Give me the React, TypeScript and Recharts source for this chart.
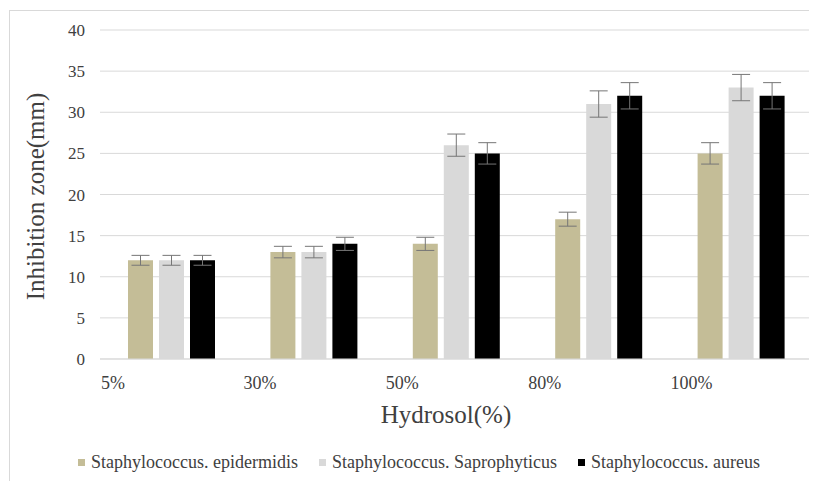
import React from "react";
import {
  BarChart,
  Bar,
  XAxis,
  YAxis,
  CartesianGrid,
  Legend,
  ErrorBar,
} from "recharts";

const categories = ["5%", "30%", "50%", "80%", "100%"];
const epidermidis = [12, 13, 14, 17, 25];
const saprophyticus = [12, 13, 26, 31, 33];
const aureus = [12, 14, 25, 32, 32];
const errEpidermidis = [0.6, 0.7, 0.8, 0.85, 1.3];
const errSaprophyticus = [0.6, 0.7, 1.35, 1.6, 1.6];
const errAureus = [0.6, 0.8, 1.3, 1.6, 1.6];
const yTicks = [0, 5, 10, 15, 20, 25, 30, 35, 40];

const series = [
  { key: "epi", err: "eEpi", name: "Staphylococcus. epidermidis", color: "#c4bd97" },
  { key: "sap", err: "eSap", name: "Staphylococcus. Saprophyticus", color: "#d9d9d9" },
  { key: "aur", err: "eAur", name: "Staphylococcus. aureus", color: "#000000" },
];

const data = categories.map((c, i) => ({
  name: c,
  epi: epidermidis[i],
  sap: saprophyticus[i],
  aur: aureus[i],
  eEpi: errEpidermidis[i],
  eSap: errSaprophyticus[i],
  eAur: errAureus[i],
}));

const FONT = '"Liberation Serif", "Times New Roman", serif';
const TEXT = "#404040";
const W = 808;
const H = 470;
const PLOT_LEFT = 90;
const PLOT_RIGHT = 6;
const halfBand = (W - PLOT_LEFT - PLOT_RIGHT) / categories.length / 2;

function XTick({ x, y, payload }: any) {
  // labels sit at the left edge of each category band
  return (
    <text x={x - halfBand + 1} y={y + 28} textAnchor="start" fontSize={18} fill={TEXT} fontFamily={FONT}>
      {payload.value}
    </text>
  );
}

function LegendBox() {
  return (
    <div
      style={{
        display: "flex",
        justifyContent: "center",
        gap: 21,
        paddingLeft: 10,
        fontFamily: FONT,
        fontSize: 18,
        lineHeight: "22px",
        color: TEXT,
      }}
    >
      {series.map((s) => (
        <div key={s.key} style={{ display: "flex", alignItems: "center" }}>
          <span style={{ width: 7, height: 7, background: s.color, marginRight: 6, display: "inline-block" }} />
          <span>{s.name}</span>
        </div>
      ))}
    </div>
  );
}

export default function App() {
  return (
    <div style={{ width: 830, height: 490, marginLeft: 1, marginTop: 2, border: "1px solid #d9d9d9", background: "#fff" }}>
      <BarChart
        width={W}
        height={H}
        data={data}
        barSize={25}
        barGap={6}
        margin={{ top: 19, right: PLOT_RIGHT, bottom: 20, left: 0 }}
      >
        <CartesianGrid vertical={false} stroke="#d9d9d9" />
        <XAxis
          dataKey="name"
          height={80}
          axisLine={{ stroke: "#d9d9d9" }}
          tickLine={false}
          tickSize={0}
          tick={<XTick />}
          interval={0}
          label={{
            content: ({ viewBox }: any) => (
              <text
                x={viewBox.x + viewBox.width / 2 - 10}
                y={viewBox.y + 64}
                textAnchor="middle"
                fontSize={25}
                fill={TEXT}
                fontFamily={FONT}
              >
                Hydrosol(%)
              </text>
            ),
          }}
        />
        <YAxis
          width={PLOT_LEFT}
          domain={[0, 40]}
          ticks={yTicks}
          axisLine={false}
          tickLine={false}
          tickSize={0}
          tickMargin={15}
          tick={{ fontSize: 17, fill: TEXT, fontFamily: FONT }}
          label={{
            content: ({ viewBox }: any) => {
              const cx = viewBox.x + 25;
              const cy = viewBox.y + viewBox.height / 2 + 2;
              return (
                <text
                  x={cx}
                  y={cy}
                  transform={`rotate(-90 ${cx} ${cy})`}
                  textAnchor="middle"
                  dominantBaseline="central"
                  fontSize={25}
                  fill={TEXT}
                  fontFamily={FONT}
                >
                  Inhibition zone(mm)
                </text>
              );
            },
          }}
        />
        <Legend
          verticalAlign="bottom"
          content={<LegendBox />}
          wrapperStyle={{ position: "absolute", left: 0, top: 440, width: W, height: 22 }}
        />
        {series.map((s) => (
          <Bar key={s.key} dataKey={s.key} name={s.name} fill={s.color} isAnimationActive={false}>
            <ErrorBar dataKey={s.err} width={9} stroke="#767676" strokeWidth={1} />
          </Bar>
        ))}
      </BarChart>
    </div>
  );
}
